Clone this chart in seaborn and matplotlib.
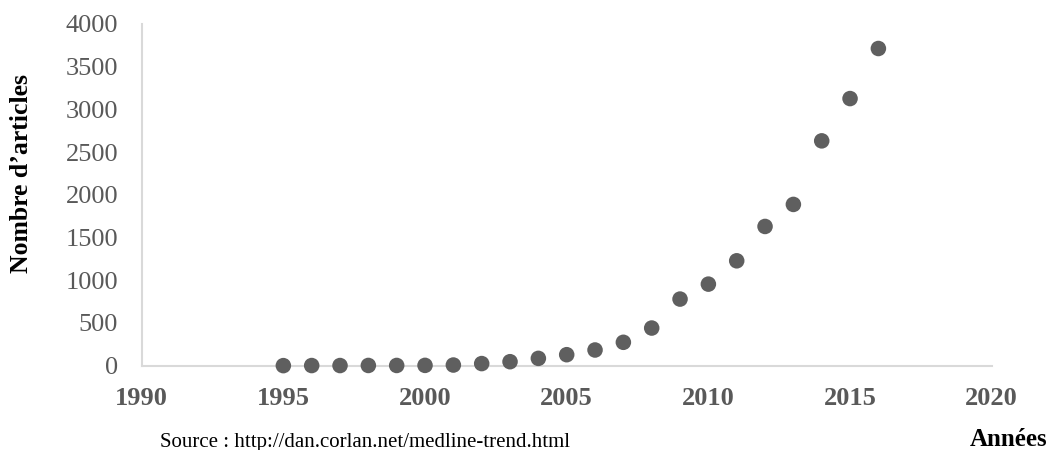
import matplotlib
matplotlib.use("Agg")
import matplotlib.pyplot as plt
import seaborn as sns
import pandas as pd

years = list(range(1995, 2017))
articles = [1, 2, 2, 3, 3, 4, 8, 25, 47, 86, 129, 184, 274, 441, 780, 955,
            1228, 1630, 1888, 2632, 3127, 3713]
x_ticks = [1990, 1995, 2000, 2005, 2010, 2015, 2020]
y_ticks = [0, 500, 1000, 1500, 2000, 2500, 3000, 3500, 4000]

sns.set_theme(style="white")
plt.rcParams['font.family'] = ['Liberation Serif', 'DejaVu Serif']

df = pd.DataFrame({"Année": years, "Articles": articles})

fig = plt.figure(figsize=(10.51, 4.5), dpi=100)
ax = fig.add_axes([0.1348, 0.1873, 0.8088, 0.7594])

sns.scatterplot(data=df, x="Année", y="Articles", ax=ax, s=125,
                color="#5f5f5f", edgecolor="none", zorder=3, clip_on=False)

ax.set_xlim(1990, 2020)
ax.set_ylim(0, 4000)
ax.set_xticks(x_ticks)
ax.set_yticks(y_ticks)
ax.set_xticklabels([str(v) for v in x_ticks], fontsize=19, fontweight="bold", color="#595959")
ax.set_yticklabels([str(v) for v in y_ticks], fontsize=19, color="#595959")
ax.tick_params(axis="x", length=0, pad=15)
ax.tick_params(axis="y", length=0, pad=17)

for s in ["top", "right"]:
    ax.spines[s].set_visible(False)
for s in ["left", "bottom"]:
    ax.spines[s].set_color("#d9d9d9")
    ax.spines[s].set_linewidth(1.5)

ax.set_xlabel("")
ax.set_ylabel("")
fig.text(0.0206, 0.615, "Nombre d\u2019articles", rotation=90, fontsize=18.5,
         fontweight="bold", color="black", ha="center", va="center")
fig.text(0.152, 0.0075, "Source : http://dan.corlan.net/medline-trend.html",
         fontsize=15, color="black", ha="left", va="baseline")
fig.text(0.997, 0.0095, "Années", fontsize=18, fontweight="bold",
         color="black", ha="right", va="baseline")

fig.savefig("out.png", dpi=100)
